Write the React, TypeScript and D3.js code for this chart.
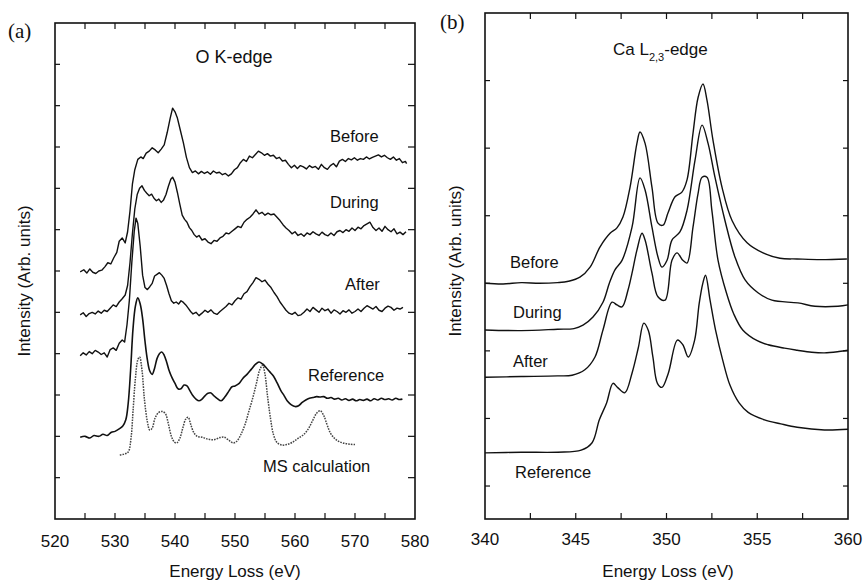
import React from 'react';
import * as d3 from 'd3';

type P = [number, number];

// ---------- Panel (a): O K-edge ----------
const oXLabels = [520, 530, 540, 550, 560, 570, 580];
const oXTicks = [525, 530, 535, 540, 545, 550, 555, 560, 565, 570, 575];
const oYTicks = [1, 2, 3, 4, 5, 6, 7, 8, 9, 10, 11];

const oBefore: P[] = [
  [524.2, 5.98], [524.8, 6.03], [525.3, 5.95], [525.8, 6.05], [526.3, 5.97], [526.8, 5.94], [527.3, 6.0], [527.8, 6.02],
  [528.3, 6.1], [528.8, 6.2], [529.3, 6.17], [529.8, 6.32], [530.3, 6.45], [530.7, 6.72], [531.2, 6.8], [531.7, 6.68],
  [532.1, 6.95], [532.5, 7.45], [532.9, 8.1], [533.3, 8.45], [533.8, 8.7], [534.3, 8.76], [534.7, 8.72], [535.2, 8.85],
  [535.7, 8.9], [536.2, 8.98], [536.7, 8.93], [537.2, 8.86], [537.7, 8.95], [538.2, 9.05], [538.7, 9.35], [539.2, 9.7],
  [539.6, 9.94], [540.0, 9.85], [540.4, 9.7], [540.9, 9.4], [541.4, 9.1], [541.9, 8.75], [542.4, 8.5], [542.9, 8.38],
  [543.4, 8.42], [543.9, 8.35], [544.4, 8.41], [544.9, 8.36], [545.4, 8.4], [545.9, 8.34], [546.4, 8.42], [546.9, 8.37],
  [547.4, 8.39], [547.9, 8.33], [548.4, 8.36], [548.9, 8.3], [549.4, 8.35], [549.9, 8.45], [550.4, 8.5], [550.9, 8.62],
  [551.4, 8.7], [551.9, 8.65], [552.4, 8.78], [552.9, 8.74], [553.4, 8.82], [553.9, 8.9], [554.4, 8.86], [554.9, 8.8],
  [555.4, 8.84], [555.9, 8.78], [556.4, 8.8], [556.9, 8.72], [557.4, 8.75], [557.9, 8.66], [558.4, 8.68], [558.9, 8.58],
  [559.4, 8.5], [559.9, 8.56], [560.4, 8.48], [560.9, 8.55], [561.4, 8.52], [561.9, 8.47], [562.4, 8.55], [562.9, 8.5],
  [563.4, 8.53], [563.9, 8.46], [564.4, 8.58], [564.9, 8.5], [565.4, 8.46], [565.9, 8.55], [566.4, 8.6], [566.9, 8.52],
  [567.4, 8.66], [567.9, 8.7], [568.4, 8.65], [568.9, 8.72], [569.4, 8.69], [569.9, 8.74], [570.4, 8.68], [570.9, 8.72],
  [571.4, 8.7], [571.9, 8.76], [572.4, 8.71], [572.9, 8.75], [573.4, 8.78], [573.9, 8.81], [574.4, 8.76], [574.9, 8.8],
  [575.4, 8.74], [575.9, 8.7], [576.4, 8.76], [576.9, 8.68], [577.4, 8.72], [577.9, 8.62], [578.4, 8.65], [578.6, 8.6],
];

const oDuring: P[] = [
  [524.2, 4.94], [524.7, 4.99], [525.2, 4.9], [525.7, 4.97], [526.2, 5.0], [526.7, 4.96], [527.2, 5.03], [527.7, 4.98],
  [528.2, 5.05], [528.7, 5.02], [529.2, 5.1], [529.7, 5.18], [530.2, 5.14], [530.7, 5.25], [531.2, 5.33], [531.7, 5.42],
  [532.1, 5.65], [532.5, 6.2], [532.9, 6.9], [533.3, 7.5], [533.7, 7.85], [534.1, 8.0], [534.5, 8.06], [534.9, 7.95],
  [535.3, 7.88], [535.7, 7.82], [536.1, 7.86], [536.5, 7.76], [536.9, 7.7], [537.3, 7.74], [537.7, 7.66], [538.1, 7.72],
  [538.5, 7.85], [538.9, 8.05], [539.3, 8.22], [539.6, 8.27], [540.0, 8.15], [540.4, 7.9], [540.8, 7.62], [541.2, 7.35],
  [541.6, 7.25], [542.0, 7.18], [542.4, 7.05], [542.8, 6.98], [543.2, 6.88], [543.6, 6.82], [544.0, 6.86], [544.5, 6.75],
  [545.0, 6.78], [545.5, 6.7], [546.0, 6.66], [546.5, 6.74], [547.0, 6.72], [547.5, 6.8], [548.0, 6.84], [548.5, 6.92],
  [549.0, 6.9], [549.5, 6.96], [550.0, 7.02], [550.5, 7.08], [551.0, 7.05], [551.5, 7.18], [552.0, 7.25], [552.5, 7.3],
  [553.0, 7.38], [553.5, 7.48], [554.0, 7.38], [554.5, 7.42], [555.0, 7.35], [555.5, 7.4], [556.0, 7.36], [556.5, 7.38],
  [557.0, 7.3], [557.5, 7.22], [558.0, 7.12], [558.5, 7.04], [559.0, 6.98], [559.5, 6.9], [560.0, 6.95], [560.5, 6.86],
  [561.0, 6.9], [561.5, 6.84], [562.0, 6.92], [562.5, 6.88], [563.0, 6.95], [563.5, 6.9], [564.0, 6.86], [564.5, 6.94],
  [565.0, 6.88], [565.5, 6.85], [566.0, 6.92], [566.5, 6.86], [567.0, 6.95], [567.5, 6.98], [568.0, 6.93], [568.5, 7.0],
  [569.0, 6.96], [569.5, 7.04], [570.0, 6.98], [570.5, 7.06], [571.0, 7.02], [571.5, 7.1], [572.0, 7.14], [572.5, 7.18],
  [573.0, 7.05], [573.5, 6.98], [574.0, 7.04], [574.5, 6.96], [575.0, 7.08], [575.5, 7.0], [576.0, 6.95], [576.5, 7.02],
  [577.0, 6.9], [577.5, 6.94], [578.0, 6.88], [578.5, 6.95],
];

const oAfter: P[] = [
  [524.2, 3.95], [524.7, 4.02], [525.2, 3.97], [525.7, 4.05], [526.2, 4.0], [526.7, 4.08], [527.2, 4.04], [527.7, 3.98],
  [528.2, 4.02], [528.7, 3.92], [529.2, 4.1], [529.7, 4.14], [530.2, 4.08], [530.7, 4.25], [531.2, 4.33], [531.6, 4.28],
  [532.0, 4.7], [532.4, 5.3], [532.8, 6.2], [533.2, 6.95], [533.5, 7.28], [533.8, 7.15], [534.2, 6.6], [534.6, 5.9],
  [535.0, 5.6], [535.4, 5.55], [535.8, 5.62], [536.2, 5.7], [536.6, 5.88], [537.0, 5.92], [537.4, 5.96], [537.8, 5.9],
  [538.2, 5.82], [538.6, 5.65], [539.0, 5.45], [539.4, 5.28], [539.8, 5.22], [540.2, 5.25], [540.6, 5.2], [541.0, 5.28],
  [541.4, 5.24], [541.8, 5.18], [542.2, 5.1], [542.6, 5.02], [543.0, 4.96], [543.5, 5.0], [544.0, 4.92], [544.5, 4.98],
  [545.0, 5.05], [545.5, 5.0], [546.0, 5.06], [546.5, 4.98], [547.0, 4.95], [547.5, 5.02], [548.0, 5.08], [548.5, 5.14],
  [549.0, 5.22], [549.5, 5.18], [550.0, 5.28], [550.5, 5.35], [551.0, 5.32], [551.5, 5.45], [552.0, 5.5], [552.5, 5.62],
  [553.0, 5.72], [553.5, 5.84], [554.0, 5.8], [554.5, 5.74], [555.0, 5.78], [555.5, 5.68], [556.0, 5.6], [556.5, 5.48],
  [557.0, 5.38], [557.5, 5.25], [558.0, 5.15], [558.5, 5.05], [559.0, 4.98], [559.5, 4.95], [560.0, 5.0], [560.5, 4.92],
  [561.0, 4.94], [561.5, 5.0], [562.0, 5.08], [562.5, 5.02], [563.0, 5.12], [563.5, 5.06], [564.0, 5.0], [564.5, 5.1],
  [565.0, 5.04], [565.5, 5.08], [566.0, 4.98], [566.5, 5.06], [567.0, 5.02], [567.5, 4.96], [568.0, 5.04], [568.5, 5.0],
  [569.0, 5.06], [569.5, 4.98], [570.0, 5.02], [570.5, 5.08], [571.0, 5.02], [571.5, 5.1], [572.0, 5.16], [572.5, 5.12],
  [573.0, 5.08], [573.5, 5.14], [574.0, 5.05], [574.5, 5.02], [575.0, 5.1], [575.5, 5.15], [576.0, 5.12], [576.5, 5.05],
  [577.0, 5.1], [577.5, 5.08], [578.0, 5.12],
];

const oReference: P[] = [
  [524.2, 1.98], [525.0, 2.0], [525.8, 1.96], [526.5, 2.02], [527.3, 2.0], [528.0, 2.05], [528.7, 2.02], [529.4, 2.1],
  [530.0, 2.12], [530.7, 2.18], [531.3, 2.25], [531.8, 2.4], [532.2, 2.8], [532.6, 3.6], [533.0, 4.6], [533.4, 5.15],
  [533.8, 5.35], [534.2, 5.2], [534.6, 4.85], [535.0, 4.3], [535.4, 3.85], [535.8, 3.58], [536.2, 3.5], [536.6, 3.65],
  [537.0, 3.88], [537.4, 4.0], [537.8, 4.04], [538.2, 3.96], [538.6, 3.8], [539.0, 3.6], [539.5, 3.42], [540.0, 3.28],
  [540.5, 3.15], [541.0, 3.15], [541.5, 3.24], [542.0, 3.22], [542.5, 3.1], [543.0, 2.98], [543.5, 2.9], [544.0, 2.86],
  [544.5, 2.9], [545.0, 2.98], [545.5, 3.04], [546.0, 3.05], [546.5, 2.98], [547.0, 2.92], [547.7, 2.86], [548.3, 2.95],
  [549.0, 3.1], [549.5, 3.2], [550.0, 3.22], [550.7, 3.28], [551.3, 3.4], [552.0, 3.5], [552.7, 3.62], [553.4, 3.74],
  [554.0, 3.8], [554.6, 3.75], [555.2, 3.66], [555.8, 3.56], [556.4, 3.46], [557.0, 3.3], [557.6, 3.12], [558.2, 2.98],
  [558.8, 2.84], [559.4, 2.76], [560.0, 2.72], [560.6, 2.74], [561.2, 2.82], [561.8, 2.88], [562.4, 2.92], [563.0, 2.94],
  [563.6, 2.96], [564.2, 2.95], [564.8, 2.96], [565.4, 2.92], [566.0, 2.94], [566.6, 2.9], [567.2, 2.92], [567.8, 2.88],
  [568.4, 2.91], [569.0, 2.87], [569.6, 2.9], [570.2, 2.86], [570.8, 2.89], [571.4, 2.87], [572.0, 2.9], [572.6, 2.86],
  [573.2, 2.91], [573.8, 2.88], [574.4, 2.92], [575.0, 2.89], [575.6, 2.91], [576.2, 2.88], [576.8, 2.92], [577.4, 2.89],
  [577.9, 2.9],
];

const oMS: P[] = [
  [530.8, 1.55], [531.5, 1.57], [532.2, 1.62], [532.7, 2.0], [533.0, 2.6], [533.4, 3.4], [533.8, 3.85], [534.1, 3.92],
  [534.5, 3.6], [534.9, 2.9], [535.4, 2.35], [535.8, 2.15], [536.2, 2.2], [536.7, 2.45], [537.3, 2.58], [537.9, 2.6],
  [538.4, 2.55], [538.9, 2.3], [539.4, 2.0], [539.9, 1.86], [540.3, 1.84], [540.8, 1.95], [541.3, 2.2], [541.8, 2.42],
  [542.2, 2.46], [542.6, 2.3], [543.1, 2.1], [543.7, 2.0], [544.5, 1.98], [545.5, 1.93], [546.5, 1.92], [547.5, 1.97],
  [548.2, 1.98], [549.0, 1.9], [549.7, 1.84], [550.3, 1.88], [551.0, 2.05], [551.7, 2.3], [552.3, 2.6], [553.0, 2.95],
  [553.6, 3.3], [554.1, 3.6], [554.6, 3.72], [555.0, 3.5], [555.4, 3.0], [555.9, 2.45], [556.4, 2.05], [557.0, 1.85],
  [557.8, 1.79], [558.6, 1.8], [559.5, 1.85], [560.5, 1.95], [561.5, 2.05], [562.3, 2.2], [563.0, 2.4], [563.6, 2.56],
  [564.2, 2.62], [564.8, 2.5], [565.3, 2.3], [565.9, 2.08], [566.6, 1.95], [567.4, 1.87], [568.3, 1.83], [569.2, 1.81],
  [570.0, 1.8],
];

// ---------- Panel (b): Ca L2,3-edge ----------
const caXLabels = [340, 345, 350, 355, 360];
const caXTicks = [342.5, 345, 347.5, 350, 352.5, 355, 357.5];
const caYTicks = [0, 1, 2, 3, 4, 5, 6];

const caBefore: P[] = [
  [340, 3.0], [341, 2.99], [342, 3.01], [343, 3.0], [344, 3.01], [344.6, 3.03], [345.23, 3.09], [345.79, 3.24],
  [346.34, 3.54], [346.89, 3.74], [347.27, 3.82], [347.6, 3.98], [347.99, 4.42], [348.37, 5.07], [348.54, 5.24],
  [348.82, 5.07], [349.2, 4.42], [349.53, 3.89], [349.81, 3.86], [350.08, 4.04], [350.47, 4.28], [350.85, 4.35],
  [351.13, 4.53], [351.46, 5.22], [351.74, 5.75], [352.01, 5.95], [352.23, 5.71], [352.56, 5.12], [353.06, 4.42],
  [353.61, 3.93], [354.44, 3.6], [355.32, 3.45], [356.25, 3.37], [357.19, 3.36], [358.5, 3.35], [359.94, 3.36],
];

const caDuring: P[] = [
  [340, 2.31], [342, 2.3], [344, 2.32], [344.9, 2.33], [345.4, 2.38], [345.95, 2.5], [346.5, 2.72], [346.85, 3.0],
  [347.16, 3.2], [347.55, 3.34], [348.1, 3.83], [348.54, 4.56], [348.82, 4.38], [349.2, 3.83], [349.53, 3.39],
  [349.75, 3.24], [350.03, 3.34], [350.3, 3.64], [350.74, 3.76], [351.13, 4.08], [351.57, 4.82], [351.96, 5.34],
  [352.29, 5.07], [352.67, 4.57], [353.22, 3.93], [353.77, 3.39], [354.33, 3.05], [355.04, 2.86], [355.81, 2.75],
  [357.24, 2.71], [358.18, 2.66], [359.45, 2.66], [360, 2.68],
];

const caAfter: P[] = [
  [340, 1.61], [342, 1.62], [344, 1.63], [344.8, 1.64], [345.5, 1.72], [346.06, 1.91], [346.5, 2.31], [347.0, 2.72],
  [347.27, 2.68], [347.55, 2.65], [347.88, 2.9], [348.1, 3.15], [348.37, 3.49], [348.65, 3.74], [348.82, 3.64],
  [349.2, 3.15], [349.53, 2.8], [349.92, 2.75], [350.3, 3.34], [350.58, 3.45], [350.9, 3.34], [351.13, 3.3],
  [351.46, 3.83], [351.74, 4.33], [351.96, 4.57], [352.23, 4.57], [352.5, 4.08], [352.84, 3.34], [353.3, 2.86],
  [353.7, 2.55], [354.2, 2.31], [355.0, 2.15], [355.6, 2.09], [356.5, 2.04], [357.2, 2.01], [358.0, 1.98],
  [358.7, 1.97], [359.5, 1.99], [360, 2.01],
];

const caReference: P[] = [
  [340, 0.49], [342, 0.5], [344, 0.5], [345.3, 0.53], [345.9, 0.64], [346.3, 0.98], [346.7, 1.23], [347.05, 1.52],
  [347.3, 1.46], [347.7, 1.38], [348.1, 1.67], [348.45, 2.05], [348.75, 2.41], [349.0, 2.3], [349.25, 1.91],
  [349.5, 1.52], [349.75, 1.46], [350.1, 1.67], [350.6, 2.16], [350.9, 2.09], [351.2, 1.91], [351.55, 2.16],
  [351.8, 2.7], [352.0, 3.0], [352.15, 3.12], [352.4, 2.75], [352.7, 2.31], [353.1, 1.86], [353.5, 1.49],
  [354.0, 1.23], [354.5, 1.09], [355.4, 0.98], [356.3, 0.92], [357.2, 0.87], [358.7, 0.83], [360, 0.84],
];

const SANS = "'Liberation Sans', Arial, Helvetica, sans-serif";
const SERIF = "'Liberation Serif', 'Times New Roman', serif";

export default function App() {
  const xa = d3.scaleLinear().domain([520, 580]).range([55, 415]);
  const ya = d3.scaleLinear().domain([0, 12]).range([519, 23]);
  const xb = d3.scaleLinear().domain([340, 360]).range([485, 848]);
  const yb = d3.scaleLinear().domain([-0.488, 7]).range([519, 13]);

  const lineA = d3.line<P>().x(d => xa(d[0])).y(d => ya(d[1]));
  const lineASmooth = d3.line<P>().x(d => xa(d[0])).y(d => ya(d[1])).curve(d3.curveCatmullRom);
  const lineB = d3.line<P>().x(d => xb(d[0])).y(d => yb(d[1])).curve(d3.curveCatmullRom);

  const tickLen = 6;
  const curveStyle = { fill: 'none', stroke: '#111', strokeWidth: 1.4, strokeLinejoin: 'round' as const };

  const frame = (x0: number, x1: number, y0: number, y1: number) => (
    <rect x={x0} y={y0} width={x1 - x0} height={y1 - y0} fill="none" stroke="#111" strokeWidth={1.6} />
  );

  return (
    <svg width={867} height={583} style={{ position: 'fixed', left: 0, top: 0, background: '#fff' }}
      xmlns="http://www.w3.org/2000/svg">
      <rect x={0} y={0} width={867} height={583} fill="#fff" />

      {/* ===== Panel (a) ===== */}
      <text x={8} y={38} fontFamily={SERIF} fontSize={21} fill="#111">(a)</text>
      <text x={234} y={63} fontFamily={SANS} fontSize={18} textAnchor="middle" fill="#111">O K-edge</text>

      <g>
        {oXTicks.map(t => (
          <g key={'oxt' + t}>
            <line x1={xa(t)} x2={xa(t)} y1={ya.range()[0]} y2={ya.range()[0] - tickLen} stroke="#111" strokeWidth={1.2} />
            <line x1={xa(t)} x2={xa(t)} y1={ya.range()[1]} y2={ya.range()[1] + tickLen} stroke="#111" strokeWidth={1.2} />
          </g>
        ))}
        {oYTicks.map(t => (
          <g key={'oyt' + t}>
            <line x1={xa.range()[0]} x2={xa.range()[0] + 5} y1={ya(t)} y2={ya(t)} stroke="#111" strokeWidth={1.2} />
            <line x1={xa.range()[1]} x2={xa.range()[1] - 7} y1={ya(t)} y2={ya(t)} stroke="#111" strokeWidth={1.2} />
          </g>
        ))}
        {oXLabels.map(t => (
          <text key={'oxl' + t} x={xa(t)} y={547} fontFamily={SANS} fontSize={17} textAnchor="middle" fill="#111">{t}</text>
        ))}
      </g>

      <path d={lineA(oBefore) || ''} {...curveStyle} />
      <path d={lineA(oDuring) || ''} {...curveStyle} />
      <path d={lineA(oAfter) || ''} {...curveStyle} />
      <path d={lineASmooth(oReference) || ''} {...curveStyle} strokeWidth={1.6} />
      <path d={lineASmooth(oMS) || ''} fill="none" stroke="#444" strokeWidth={1.5} strokeDasharray="1.6,1.1" />

      <text x={330} y={142} fontFamily={SANS} fontSize={16.5} fill="#111">Before</text>
      <text x={330} y={208} fontFamily={SANS} fontSize={16.5} fill="#111">During</text>
      <text x={345} y={290} fontFamily={SANS} fontSize={16.5} fill="#111">After</text>
      <text x={308} y={381} fontFamily={SANS} fontSize={16.5} fill="#111">Reference</text>
      <text x={263} y={472} fontFamily={SANS} fontSize={16.5} fill="#111">MS calculation</text>

      {frame(55, 415, 23, 519)}

      <text x={235} y={577} fontFamily={SANS} fontSize={17} textAnchor="middle" fill="#111">Energy Loss (eV)</text>
      <text transform="translate(30,281) rotate(-90)" fontFamily={SANS} fontSize={17} textAnchor="middle" fill="#111">
        Intensity (Arb. units)
      </text>

      {/* ===== Panel (b) ===== */}
      <text x={440} y={29} fontFamily={SERIF} fontSize={21} fill="#111">(b)</text>
      <text x={613} y={55} fontFamily={SANS} fontSize={17} fill="#111">
        Ca L<tspan fontSize={11} dy={6}>2,3</tspan><tspan dy={-6}>-edge</tspan>
      </text>

      <g>
        {caXTicks.map(t => (
          <g key={'cxt' + t}>
            <line x1={xb(t)} x2={xb(t)} y1={yb.range()[0]} y2={yb.range()[0] - tickLen} stroke="#111" strokeWidth={1.2} />
            <line x1={xb(t)} x2={xb(t)} y1={yb.range()[1]} y2={yb.range()[1] + tickLen} stroke="#111" strokeWidth={1.2} />
          </g>
        ))}
        {caYTicks.map(t => (
          <g key={'cyt' + t}>
            <line x1={xb.range()[0]} x2={xb.range()[0] + 5} y1={yb(t)} y2={yb(t)} stroke="#111" strokeWidth={1.2} />
            <line x1={xb.range()[1]} x2={xb.range()[1] - 5} y1={yb(t)} y2={yb(t)} stroke="#111" strokeWidth={1.2} />
          </g>
        ))}
        {caXLabels.map(t => (
          <text key={'cxl' + t} x={xb(t)} y={545} fontFamily={SANS} fontSize={17} textAnchor="middle" fill="#111">{t}</text>
        ))}
      </g>

      <path d={lineB(caBefore) || ''} {...curveStyle} />
      <path d={lineB(caDuring) || ''} {...curveStyle} />
      <path d={lineB(caAfter) || ''} {...curveStyle} />
      <path d={lineB(caReference) || ''} {...curveStyle} />

      <text x={510} y={268} fontFamily={SANS} fontSize={16.5} fill="#111">Before</text>
      <text x={513} y={318} fontFamily={SANS} fontSize={16.5} fill="#111">During</text>
      <text x={513} y={367} fontFamily={SANS} fontSize={16.5} fill="#111">After</text>
      <text x={515} y={478} fontFamily={SANS} fontSize={16.5} fill="#111">Reference</text>

      {frame(485, 848, 13, 519)}

      <text x={668} y={577} fontFamily={SANS} fontSize={17} textAnchor="middle" fill="#111">Energy Loss (eV)</text>
      <text transform="translate(461,261) rotate(-90)" fontFamily={SANS} fontSize={17} textAnchor="middle" fill="#111">
        Intensity (Arb. units)
      </text>
    </svg>
  );
}
